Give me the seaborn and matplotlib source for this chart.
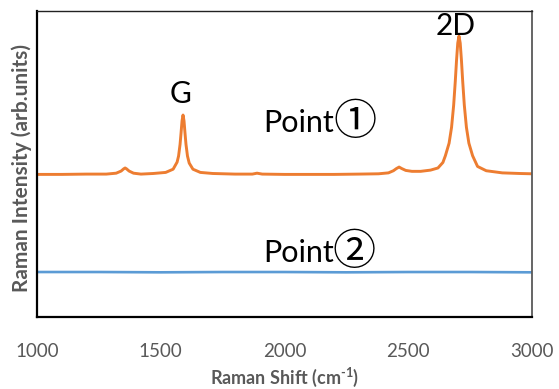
import matplotlib
matplotlib.use("Agg")
import matplotlib.pyplot as plt
import seaborn as sns
import pandas as pd

# Point 1: spectrum (arb. units, 0-100 axis)
shift_p1 = [1000, 1100, 1200, 1280, 1320, 1340, 1350, 1356, 1362, 1372, 1390, 1420,
            1470, 1520, 1550, 1566, 1572, 1578, 1582, 1586, 1590, 1594, 1598, 1602,
            1608, 1615, 1630, 1660, 1710, 1800, 1870, 1889, 1910, 2000, 2100, 2200,
            2300, 2380, 2420, 2440, 2452, 2463, 2474, 2490, 2515, 2550, 2590, 2620,
            2640, 2650, 2665, 2675, 2683.5, 2690, 2695, 2700, 2705, 2710, 2715, 2720,
            2726.5, 2735, 2745, 2760, 2780, 2815, 2880, 2950, 3000]
intensity_p1 = [46.6, 46.6, 46.7, 46.7, 47.0, 47.7, 48.4, 48.7, 48.4, 47.7, 47.0, 46.7,
                46.9, 47.25, 48.3, 50.6, 52.6, 56.4, 60.1, 64.1, 66.0, 64.1, 60.1, 56.4,
                52.6, 50.3, 48.3, 47.25, 46.9, 46.7, 46.7, 47.0, 46.7, 46.6, 46.6, 46.6,
                46.7, 46.8, 47.1, 47.8, 48.5, 49.0, 48.5, 47.9, 47.6, 47.6, 48.0, 48.7,
                50.5, 52.7, 56.8, 62.0, 69.25, 77.0, 83.8, 89.5, 91.8, 89.5, 83.8, 77.0,
                69.25, 62.0, 56.8, 52.7, 49.2, 47.8, 47.1, 46.9, 46.8]

# Point 2: flat spectrum
shift_p2 = [1000, 1250, 1500, 1750, 2000, 2250, 2500, 2750, 3000]
intensity_p2 = [14.7, 14.7, 14.6, 14.7, 14.7, 14.6, 14.7, 14.7, 14.6]

x_ticks = [1000, 1500, 2000, 2500, 3000]

sns.set_style("white")
plt.rcParams["font.family"] = ["Lato", "Noto Sans CJK JP", "DejaVu Sans"]
plt.rcParams["mathtext.fontset"] = "custom"
plt.rcParams["mathtext.bf"] = "Lato:bold"
plt.rcParams["mathtext.rm"] = "Lato"

df1 = pd.DataFrame({"shift": shift_p1, "intensity": intensity_p1})
df2 = pd.DataFrame({"shift": shift_p2, "intensity": intensity_p2})

fig = plt.figure(figsize=(5.59, 3.89), dpi=100)
ax = fig.add_axes([37 / 559, 1 - 317 / 389, 495 / 559, 306 / 389])

sns.lineplot(data=df2, x="shift", y="intensity", ax=ax, color="#5B9BD5", linewidth=1.9)
sns.lineplot(data=df1, x="shift", y="intensity", ax=ax, color="#ED7D31", linewidth=2.1)

ax.set_xlim(1000, 3000)
ax.set_ylim(0, 100)
ax.set_xticks(x_ticks)
ax.set_yticks([])
ax.tick_params(axis="x", direction="in", length=5, width=1, color="black",
               labelsize=13.5, labelcolor="#595959", pad=19)

for side in ["left", "bottom"]:
    ax.spines[side].set_color("black")
    ax.spines[side].set_linewidth(1.6)
ax.spines["top"].set_color("#222222")
ax.spines["top"].set_linewidth(1.0)
ax.spines["right"].set_color("#595959")
ax.spines["right"].set_linewidth(1.3)

ax.set_xlabel("Raman Shift (cm$^{\\mathbf{\u2010}\\mathbf{1}}$)", fontsize=13,
              fontweight="bold", color="#595959", va="center")
ax.xaxis.set_label_coords(0.5, (317 - 377) / 306)
ax.set_ylabel("Raman Intensity (arb.units)", fontsize=15, fontweight="bold",
              color="#595959", va="center")
ax.yaxis.set_label_coords((22 - 37) / 495, (317 - 168) / 306)

# peak / point labels
cjk = ["Noto Sans CJK JP", "DejaVu Sans"]
ax.text(1582, 69.9, "G", fontsize=21.5, ha="center", va="baseline", color="black")
ax.text(2693, 92.2, "2D", fontsize=21.5, ha="center", va="baseline", color="black")
ax.text(1913, 60.5, "Point", fontsize=22, ha="left", va="baseline", color="black")
ax.text(2285, 63.4, "①", fontsize=31, family=cjk, ha="center", va="center", color="black")
ax.text(1913, 18.0, "Point", fontsize=22, ha="left", va="baseline", color="black")
ax.text(2280, 21.0, "②", fontsize=31, family=cjk, ha="center", va="center", color="black")

fig.savefig("out.png", dpi=100)
